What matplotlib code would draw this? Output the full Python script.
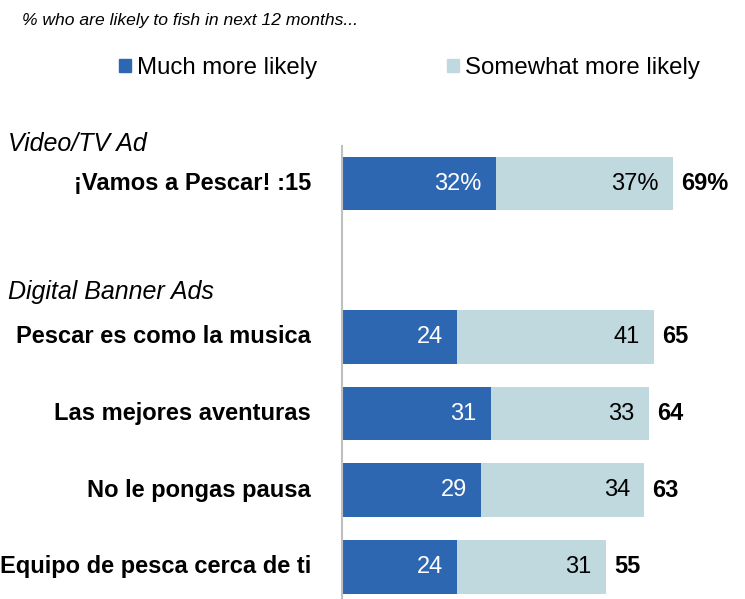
import matplotlib.pyplot as plt
from matplotlib.patches import Patch

plt.rcParams['font.family'] = ['Liberation Sans', 'DejaVu Sans']

labels = ['¡Vamos a Pescar! :15', 'Pescar es como la musica', 'Las mejores aventuras',
          'No le pongas pausa', 'Equipo de pesca cerca de ti']
much = [32, 24, 31, 29, 24]
somewhat = [37, 41, 33, 34, 31]
totals = [69, 65, 64, 63, 55]
pos = [0, 2, 3, 4, 5]

dark = '#2E67B1'
light = '#BFD9DF'
fs = 17

fig = plt.figure(figsize=(7.45, 5.99), dpi=100)
ax = fig.add_axes([342 / 745, 0, 1 - 342 / 745, 1 - 146 / 599])

ax.barh(pos, much, height=0.7, color=dark)
ax.barh(pos, somewhat, left=much, height=0.7, color=light)

for i, y in enumerate(pos):
    suffix = '%' if i == 0 else ''
    ax.text(much[i] - 3.0, y, f'{much[i]}{suffix}', ha='right', va='center',
            color='white', fontsize=fs)
    ax.text(much[i] + somewhat[i] - 3.0, y, f'{somewhat[i]}{suffix}', ha='right',
            va='center', color='black', fontsize=fs)
    ax.text(totals[i] + 1.7, y, f'{totals[i]}{suffix}', ha='left', va='center',
            color='black', fontsize=fs, fontweight='bold')
    ax.text(-6.5, y, labels[i], ha='right', va='center', fontsize=17,
            fontweight='bold', clip_on=False)

ax.text(-69.6, -0.52, 'Video/TV Ad', ha='left', va='center', fontsize=18,
        style='italic', clip_on=False)
ax.text(-69.6, 1.42, 'Digital Banner Ads', ha='left', va='center', fontsize=18,
        style='italic', clip_on=False)

ax.set_xlim(0, (745 - 342) / 4.8)
ax.set_ylim(5.42, -0.49)
for s in ['top', 'right', 'bottom']:
    ax.spines[s].set_visible(False)
ax.spines['left'].set_color('#BFBFBF')
ax.spines['left'].set_linewidth(1.5)
ax.set_xticks([])
ax.set_yticks([])

fig.text(22 / 745, 1 - 21 / 599, '% who are likely to fish in next 12 months...',
         ha='left', va='center', fontsize=12.6, style='italic')

handles = [Patch(color=dark, label='Much more likely'),
           Patch(color=light, label='Somewhat more likely')]
fig.legend(handles=handles, loc='center left', bbox_to_anchor=(119 / 745, 1 - 68 / 599),
           ncol=2, frameon=False, fontsize=17.3, handlelength=0.5, handleheight=0.5,
           handletextpad=0.25, columnspacing=5.4, borderpad=0, borderaxespad=0)

fig.savefig('out.png', dpi=100)
